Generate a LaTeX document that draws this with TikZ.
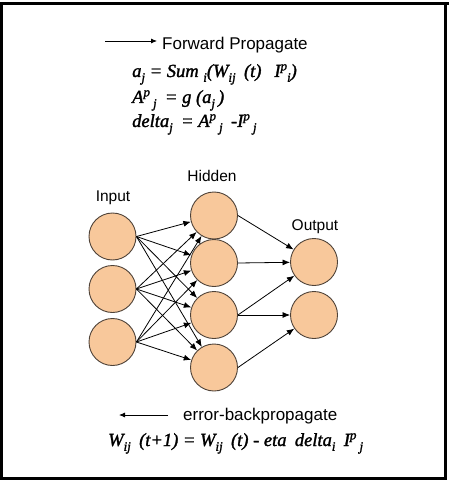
\documentclass[tikz,border=0pt]{standalone}
\usepackage{fontspec}
\setmainfont{Liberation Serif}
\setsansfont{Liberation Sans}
\newfontfamily\eqfont[FakeBold=1.6]{Liberation Serif}
\usetikzlibrary{arrows.meta}
\newcommand\lo[1]{\raisebox{-0.26em}{\fontsize{13}{13}\selectfont #1}}
\newcommand\hi[1]{\raisebox{0.36em}{\fontsize{13}{13}\selectfont #1}}
\newcommand\gap{\hspace{0.45em}}
\definecolor{peach}{HTML}{F8C89B}
\definecolor{rimc}{HTML}{4E4238}
\begin{document}
\begin{tikzpicture}[x=1pt,y=-1pt,
  neuron/.style={circle,draw=rimc,fill=peach,line width=0.9pt,minimum size=47pt,inner sep=0pt},
  lbl/.style={font=\sffamily\fontsize{15.5}{15.5}\selectfont,inner sep=0pt},
  head/.style={font=\sffamily\fontsize{17}{17}\selectfont,inner sep=0pt,anchor=base west},
  eqn/.style={font=\eqfont\fontsize{18.5}{18.5}\selectfont\itshape,inner sep=0pt,anchor=base west},
  arr/.style={draw=black,line width=0.8pt,-{Latex[length=7.5pt,width=6pt]}},
  frame/.style={line width=3pt,draw=black}]
\useasboundingbox (0,0) rectangle (449,481);
% frame
\draw[frame] (1.5,3.5) rectangle (445,478);
\draw[frame] (0,3.5) -- (449,3.5);
% headings
\coordinate (fa) at (105,41);
\coordinate (fb) at (157,41);
\draw[line width=0.8pt,-{Latex[length=6pt,width=5pt]}] (fa) -- (fb);
\node[head] (fwd) at (162,50) {Forward Propagate};
\node[eqn] (e1) at (132,77) {a\lo{j} = Sum \lo{i}(W\lo{ij}\gap(t)\gap\ I\hi{p}\lo{i})};
\node[eqn] (e2) at (132,103) {A\hi{p}\,\lo{j}\gap = g (a\lo{j}\,)};
\node[eqn] (e3) at (132,127) {delta\lo{j}\gap = A\hi{p}\,\lo{j}\gap -I\hi{p}\,\lo{j}};
% network
\node[neuron] (i1) at (112.5,236.5) {};
\node[neuron] (i2) at (112.5,289) {};
\node[neuron] (i3) at (112.5,342) {};
\node[neuron] (h1) at (214,215.5) {};
\node[neuron] (h2) at (214,263) {};
\node[neuron] (h3) at (214,315) {};
\node[neuron] (h4) at (214,367.5) {};
\node[neuron] (o1) at (314,262) {};
\node[neuron] (o2) at (314,315) {};
\node[lbl] (tin) at (113,198) {Input};
\node[lbl] (thid) at (212,176) {Hidden};
\node[lbl] (tout) at (315,227) {Output};
\foreach \i in {1,2,3}{
  \foreach \h in {1,2,3,4}{
    \draw[arr] (i\i.east) -- (h\h);
  }
}
\draw[arr] (h1.east) -- (o1);
\draw[arr] (h2.east) -- (o1);
\draw[arr] (h3.east) -- (o1);
\draw[arr] (h3.east) -- (o2);
\draw[arr] (h4.east) -- (o2);
% bottom
\coordinate (ba) at (168,415);
\coordinate (bb) at (119,415);
\draw[line width=0.8pt,-{Latex[length=6pt,width=5pt]}] (ba) -- (bb);
\node[head] (back) at (183,420) {error-backpropagate};
\node[eqn] (e4) at (108,446) {W\lo{ij}\gap(t+1) = W\lo{ij}\gap(t) - eta\gap delta\lo{i}\gap I\hi{p}\,\lo{j}};
\end{tikzpicture}
\end{document}
